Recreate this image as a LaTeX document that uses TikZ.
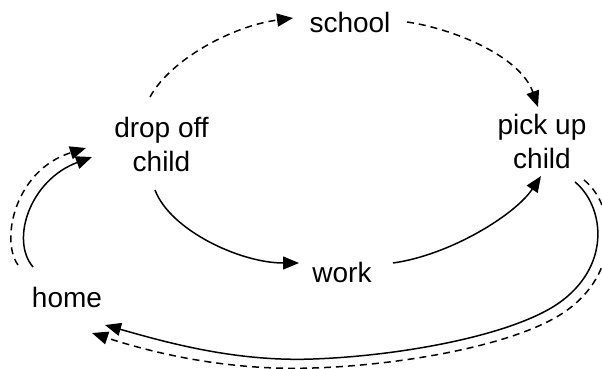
\documentclass[tikz,border=0pt]{standalone}
\usepackage{fontspec}
\setmainfont{Liberation Sans}
\usetikzlibrary{arrows.meta,calc}
\tikzset{
  lbl/.style={inner sep=0pt, font=\fontsize{28}{34}\selectfont, align=center},
  conn/.style={line width=1.5pt, -{Triangle[length=16pt,width=13pt]}},
  dconn/.style={conn, dash pattern=on 7pt off 5pt},
}
\begin{document}
\begin{tikzpicture}[x=1pt,y=-1pt]
\useasboundingbox (0,0) rectangle (602,369);
\node[lbl, anchor=base] (school) at (350,33) {school};
\node[lbl, anchor=base] (work) at (342,282) {work};
\node[lbl, anchor=base] (home) at (67,307) {home};
\node[lbl] (drop) at (161.5,144) {drop off\\child};
\node[lbl] (pick) at (542,141) {pick up\\child};

% drop off -> school (dashed)
\draw[dconn] ($(drop)+(-11.5,-47)$) .. controls (170,60) and (232,26) .. ($(school.base)+(-57,-15)$);
% school -> pick up (dashed)
\draw[dconn] ($(school.base)+(57,-11)$) .. controls (450,28) and (520,55) .. ($(pick)+(-4,-34)$);
% drop off -> work
\draw[conn] ($(drop)+(-6.5,46)$) .. controls (170,230) and (240,263) .. ($(work.base)+(-43,-19)$);
% work -> pick up
\draw[conn] ($(work.base)+(51,-19)$) .. controls (450,255) and (515,215) .. ($(pick)+(-1,35)$);
% home -> drop off
\draw[conn] ($(home.base)+(-34,-40)$) .. controls (10,240) and (30,180) .. ($(drop)+(-69.5,13)$);
\draw[dconn] ($(home.base)+(-49,-42)$) .. controls (0,240) and (15,170) .. ($(drop)+(-75.5,4)$);
% pick up -> home
\draw[conn] ($(pick)+(33,41)$) .. controls (603,205) and (612,262) .. (563,300)
  .. controls (518,335) and (400,356) .. (313,359)
  .. controls (235,362) and (165,342) .. ($(home.base)+(38,18)$);
\draw[dconn] ($(pick)+(42,39)$) .. controls (614,204) and (622,268) .. (570,308)
  .. controls (524,344) and (405,365) .. (313,368)
  .. controls (225,371) and (150,352) .. ($(home.base)+(25,26)$);
\end{tikzpicture}
\end{document}
